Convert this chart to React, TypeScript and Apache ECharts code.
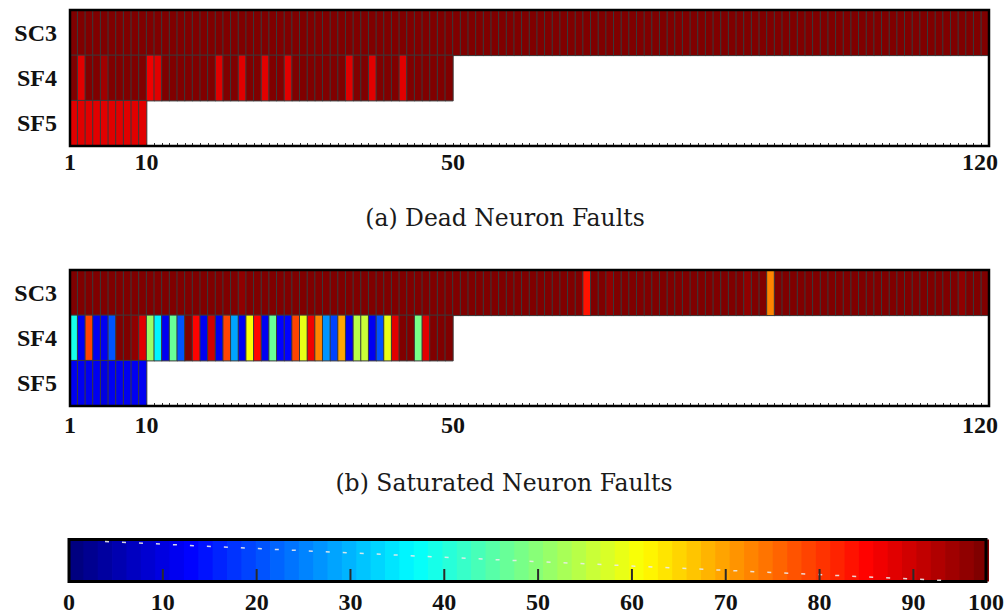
import React, { useEffect, useRef } from 'react';
import * as echarts from 'echarts';

// ---------- data ----------
const ROWS = ['SC3', 'SF4', 'SF5'];
const COLUMNS = Array.from({ length: 120 }, (_, i) => String(i + 1));

const DEAD_SC3 = [
  99.6, 99.6, 99.6, 99.0, 99.6, 99.6, 99.6, 99.6, 99.6, 99.6,
  99.6, 99.6, 99.6, 99.6, 99.6, 99.6, 99.6, 99.6, 99.6, 99.6,
  99.6, 99.6, 99.6, 99.6, 99.6, 99.6, 99.6, 99.6, 99.6, 99.6,
  99.6, 99.6, 99.6, 99.6, 99.6, 99.6, 99.6, 99.6, 99.6, 99.6,
  99.6, 99.6, 99.6, 99.6, 99.6, 99.6, 99.6, 99.6, 99.6, 99.6,
  99.6, 99.6, 99.6, 99.6, 99.6, 99.6, 99.6, 99.6, 99.6, 99.6,
  99.6, 99.6, 99.6, 99.6, 99.6, 99.6, 99.6, 99.6, 99.6, 99.6,
  99.6, 99.6, 99.6, 99.6, 99.6, 99.6, 99.6, 99.6, 99.6, 99.6,
  99.6, 99.6, 99.6, 99.6, 99.6, 99.6, 99.6, 99.6, 99.6, 99.6,
  99.6, 99.6, 99.6, 99.6, 99.6, 99.6, 99.6, 99.6, 99.6, 99.6,
  99.6, 99.6, 99.6, 99.6, 99.6, 99.6, 99.6, 99.6, 99.6, 99.6,
  99.6, 99.6, 99.6, 99.6, 99.6, 99.6, 99.6, 99.6, 99.6, 99.6,
];
const DEAD_SF4 = [
  99.6, 90.5, 99.6, 99.6, 96.8, 99.6, 99.6, 99.6, 99.6, 99.6,
  89.0, 90.5, 99.6, 99.6, 99.6, 99.6, 99.6, 99.6, 99.6, 90.0,
  99.6, 99.6, 90.0, 99.6, 99.6, 89.5, 99.6, 99.6, 89.5, 99.6,
  99.6, 99.6, 99.6, 99.6, 99.6, 99.6, 90.0, 99.6, 99.6, 90.0,
  99.6, 99.6, 99.6, 90.0, 99.6, 99.6, 99.6, 99.6, 99.6, 99.6,
];
const DEAD_SF5 = [90.0, 89.5, 90.5, 90.0, 90.5, 90.0, 90.5, 90.0, 89.5, 90.5];

const SAT_SC3 = [
  99.6, 99.6, 99.6, 99.6, 99.6, 99.6, 99.6, 99.6, 99.6, 99.6,
  99.6, 99.6, 99.6, 99.6, 99.6, 99.6, 99.6, 99.6, 99.6, 99.6,
  99.6, 99.6, 98.4, 99.6, 99.6, 99.6, 99.6, 99.6, 99.6, 99.6,
  99.6, 99.6, 99.6, 99.6, 99.6, 99.6, 99.6, 99.6, 99.6, 99.6,
  99.6, 99.6, 99.6, 99.6, 99.6, 99.6, 99.6, 99.6, 99.6, 99.6,
  99.6, 99.6, 99.6, 99.6, 99.6, 99.6, 99.6, 99.6, 99.6, 99.6,
  99.6, 99.6, 99.6, 99.6, 99.6, 99.6, 99.6, 85.0, 99.6, 99.6,
  98.0, 99.6, 99.6, 99.6, 99.6, 99.6, 99.6, 99.6, 99.6, 99.6,
  99.6, 99.6, 99.6, 99.6, 99.6, 99.6, 99.6, 99.6, 98.0, 99.6,
  99.6, 74.0, 99.6, 99.6, 99.6, 99.6, 99.6, 99.6, 99.6, 99.6,
  99.6, 99.6, 99.6, 99.6, 99.6, 99.6, 99.6, 99.6, 99.6, 99.6,
  99.6, 99.6, 99.6, 99.6, 99.6, 99.6, 97.5, 99.6, 99.6, 99.6,
];
const SAT_SF4 = [
  40.0, 11.5, 81.0, 11.5, 11.5, 21.0, 99.6, 99.6, 98.0, 90.0,
  53.0, 36.0, 11.5, 47.0, 21.0, 99.6, 87.5, 11.5, 92.0, 11.5,
  81.0, 29.0, 11.5, 61.0, 87.5, 11.5, 47.0, 13.0, 13.0, 81.0,
  60.0, 88.0, 75.0, 26.6, 18.8, 71.8, 11.5, 56.0, 57.5, 11.5,
  21.0, 60.0, 90.0, 99.6, 99.6, 50.0, 90.0, 99.6, 99.6, 99.6,
];
const SAT_SF5 = [11.5, 11.5, 11.5, 11.5, 10.5, 11.5, 11.5, 11.5, 11.5, 11.5];

const X_TICK_VALUES = [0, 10, 50, 120];
const X_TICK_TEXT = ['1', '10', '50', '120'];
const CBAR_TICK_VALUES = [0, 10, 20, 30, 40, 50, 60, 70, 80, 90];
const CBAR_INNER_TICKS = [10, 20, 30, 40, 50, 60, 70, 80, 90];
const CBAR_MAX_LABEL = '100';
const JET = ['#000080', '#0000ff', '#0080ff', '#00ffff', '#80ff80', '#ffff00', '#ff8000', '#ff0000', '#800000'];
const CAPTIONS = ['(a) Dead Neuron Faults', '(b) Saturated Neuron Faults'];

// ---------- helpers ----------
function toCells(rows: number[][]) {
  const out: number[][] = [];
  rows.forEach((vals, r) => vals.forEach((v, c) => out.push([c, r, v])));
  return out;
}

const LABEL = {
  fontFamily: 'Liberation Serif',
  fontWeight: 'bold' as const,
  fontSize: 24,
  color: '#111',
};

function heatXAxes(gridIndex: number, margin: number) {
  return [
    {
      type: 'category', gridIndex, data: COLUMNS, position: 'bottom',
      axisLine: { show: false }, axisLabel: { show: false },
      axisTick: { show: true, inside: true, length: 3, interval: 0, lineStyle: { color: '#333', width: 1 } },
      splitLine: { show: false }, z: 0,
    },
    {
      type: 'value', gridIndex, min: 0, max: 120, interval: 10, position: 'bottom',
      axisLine: { show: false }, axisTick: { show: false }, splitLine: { show: false },
      axisLabel: {
        ...LABEL, margin, showMinLabel: true, showMaxLabel: true,
        formatter: (v: number) => {
          const i = X_TICK_VALUES.indexOf(v);
          if (i < 0) return '';
          return i === X_TICK_VALUES.length - 1 ? '{e|' + X_TICK_TEXT[i] + '}' : X_TICK_TEXT[i];
        },
        rich: { e: { ...LABEL, padding: [0, 18, 0, 0] } },
      },
    },
  ];
}

function heatYAxis(gridIndex: number) {
  return {
    type: 'category', gridIndex, data: ROWS, inverse: true,
    axisLine: { show: false }, axisTick: { show: false }, splitLine: { show: false },
    axisLabel: { ...LABEL, margin: 13 },
  };
}

const HEAT_GRID = { left: 70, width: 919, height: 136, show: true, borderColor: '#000', borderWidth: 2.5, backgroundColor: 'transparent', z: 5 };
const CB_W = 920;
const CB_N = 64;
const CB_OVERLAP = 0.8;

const option: any = {
  animation: false,
  backgroundColor: '#fff',
  grid: [
    { ...HEAT_GRID, top: 10 },
    { ...HEAT_GRID, top: 270 },
    { left: 69, top: 539.5, width: CB_W, height: 42, show: true, borderColor: '#000', borderWidth: 3, backgroundColor: 'transparent', z: 8 },
  ],
  xAxis: [
    ...heatXAxes(0, 4),
    ...heatXAxes(1, 7),
    {
      type: 'value', gridIndex: 2, min: 0, max: 97.74, interval: 10, position: 'bottom', z: 12,
      axisLine: { show: false, onZero: false }, splitLine: { show: false },
      axisTick: { show: false },
      axisLabel: {
        ...LABEL, margin: 8, showMinLabel: true, showMaxLabel: true,
        formatter: (v: number) => (CBAR_TICK_VALUES.indexOf(v) >= 0 ? String(v) : v > 95 ? CBAR_MAX_LABEL : ''),
      },
    },
  ],
  yAxis: [
    heatYAxis(0),
    heatYAxis(1),
    { type: 'value', gridIndex: 2, show: false, min: 0, max: 1 },
  ],
  visualMap: {
    type: 'piecewise', min: 0, max: 100, splitNumber: CB_N,
    inRange: { color: JET },
    orient: 'horizontal', left: 69, top: 539.5, padding: 0,
    itemWidth: (CB_W + (CB_N - 1) * CB_OVERLAP) / CB_N, itemHeight: 42, itemGap: -CB_OVERLAP, itemSymbol: 'rect',
    showLabel: false, selectedMode: false, hoverLink: false,
    seriesIndex: [0, 1], z: 1,
  },
  series: [
    {
      type: 'heatmap', xAxisIndex: 0, yAxisIndex: 0,
      data: toCells([DEAD_SC3, DEAD_SF4, DEAD_SF5]),
      itemStyle: { borderColor: '#3a3a3a', borderWidth: 1 },
      emphasis: { disabled: true },
    },
    {
      type: 'heatmap', xAxisIndex: 2, yAxisIndex: 1,
      data: toCells([SAT_SC3, SAT_SF4, SAT_SF5]),
      itemStyle: { borderColor: '#3a3a3a', borderWidth: 1 },
      emphasis: { disabled: true },
    },
    {
      type: 'custom', xAxisIndex: 4, yAxisIndex: 2, z: 10, silent: true, clip: false,
      data: CBAR_INNER_TICKS.map((v) => [v, 0]),
      renderItem: (_params: any, api: any) => {
        const p = api.coord([api.value(0), 0]);
        return {
          type: 'line',
          shape: { x1: p[0], y1: p[1] - 1.5, x2: p[0], y2: p[1] - 12.5 },
          style: { stroke: '#2a2a2a', lineWidth: 2 },
        };
      },
    },
  ],
  graphic: [
    {
      type: 'text', x: 505, y: 218, z: 10,
      style: { text: CAPTIONS[0], fontFamily: 'DejaVu Serif', fontSize: 23.5, fill: '#1a1a1a', align: 'center', verticalAlign: 'middle' },
    },
    {
      type: 'text', x: 504, y: 483, z: 10,
      style: { text: CAPTIONS[1], fontFamily: 'DejaVu Serif', fontSize: 23.5, fill: '#1a1a1a', align: 'center', verticalAlign: 'middle' },
    },
    {
      type: 'line', z: 10, silent: true,
      shape: { x1: 105, y1: 541.5, x2: 945, y2: 580.5 },
      style: { stroke: 'rgba(235,235,235,0.9)', lineWidth: 1.5, lineDash: [4, 13] },
    },
  ],
};

export default function App() {
  const ref = useRef<HTMLDivElement>(null);
  useEffect(() => {
    if (!ref.current) return;
    const chart = echarts.init(ref.current, null, { renderer: 'svg' });
    chart.setOption(option);
    return () => chart.dispose();
  }, []);
  return (
    <div
      ref={ref}
      style={{ position: 'absolute', left: 0, top: 0, width: 1007, height: 615, background: '#fff' }}
    />
  );
}
